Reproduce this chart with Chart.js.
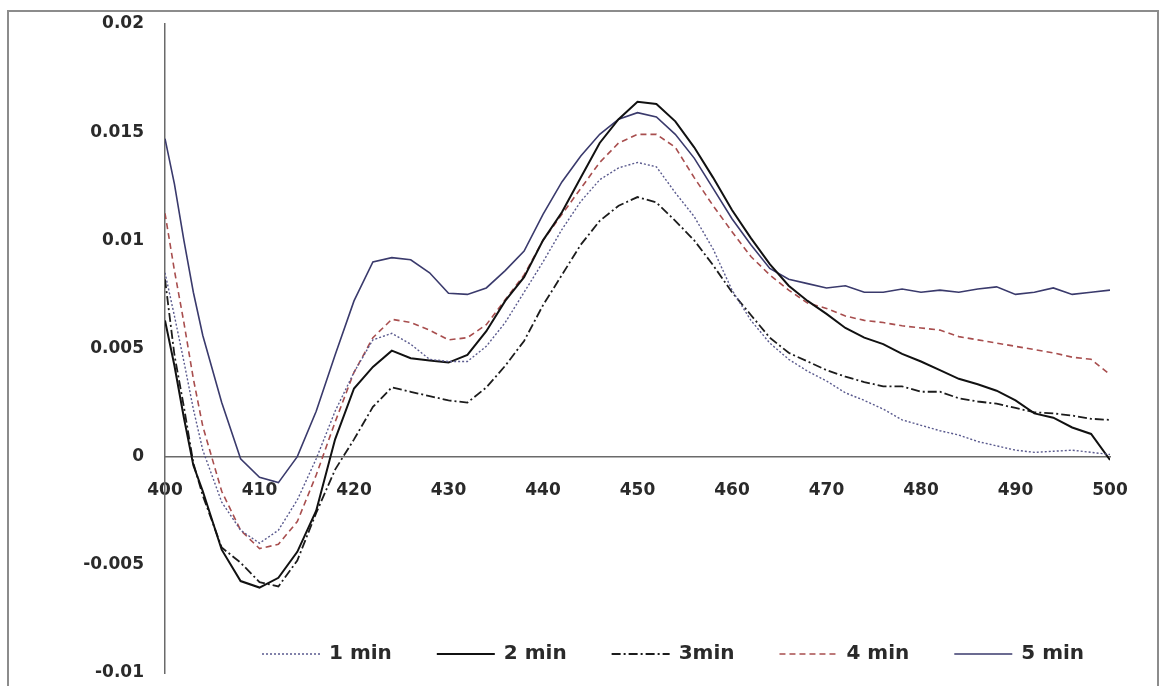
<!DOCTYPE html>
<html>
<head>
<meta charset="utf-8">
<script src="https://cdn.jsdelivr.net/npm/chart.js@4.4.1/dist/chart.umd.min.js"></script>
<style>
  html, body { margin: 0; padding: 0; background: #fff; }
  #wrap { position: relative; width: 1161px; height: 686px; overflow: hidden; }
  #frame { position: absolute; left: 7px; top: 10px; width: 1152px; height: 700px;
           border: 2px solid #8c8c8c; box-sizing: border-box; pointer-events: none; }
</style>
</head>
<body>
<div id="wrap">
  <canvas id="spectra" width="1161" height="686"></canvas>
  <div id="frame"></div>
</div>
<script>
// wavelength (nm)
const wavelengths = [400, 401, 402, 403, 404, 406, 408, 410, 412, 414, 416, 418, 420, 422, 424, 426, 428, 430,
  432, 434, 436, 438, 440, 442, 444, 446, 448, 450, 452, 454, 456, 458, 460, 462, 464, 466, 468, 470,
  472, 474, 476, 478, 480, 482, 484, 486, 488, 490, 492, 494, 496, 498, 500];

const seriesNames = ['1 min', '2 min', '3min', '4 min', '5 min'];

const min1 = [0.0085, 0.0065, 0.0044, 0.0022, 0.0003, -0.0021, -0.0034, -0.0040, -0.0034, -0.0020, -0.0001,
  0.0021, 0.0039, 0.0054, 0.0057, 0.0052, 0.0045, 0.0044, 0.0044, 0.0051, 0.0062, 0.0076, 0.0090, 0.0105,
  0.0118, 0.0128, 0.01335, 0.0136, 0.0134, 0.0122, 0.0111, 0.0096, 0.0077, 0.0063, 0.00525, 0.0045,
  0.00395, 0.0035, 0.00295, 0.0026, 0.0022, 0.0017, 0.00145, 0.0012, 0.0010, 0.0007, 0.0005, 0.0003,
  0.0002, 0.00025, 0.0003, 0.0002, 0.0001];

const min2 = [0.0063, 0.0042, 0.0018, -0.0004, -0.0016, -0.0043, -0.00575, -0.00605, -0.0056, -0.0044,
  -0.0025, 0.0008, 0.00315, 0.00415, 0.0049, 0.00455, 0.00445, 0.00435, 0.0047, 0.0058, 0.0072, 0.0083,
  0.0100, 0.0113, 0.0129, 0.0145, 0.0156, 0.0164, 0.0163, 0.0155, 0.0143, 0.0129, 0.0114, 0.0101, 0.0089,
  0.0079, 0.0072, 0.0066, 0.00595, 0.0055, 0.0052, 0.00475, 0.0044, 0.0040, 0.0036, 0.00335, 0.00305,
  0.0026, 0.0020, 0.0018, 0.00135, 0.00105, -0.00015];

const min3 = [0.0082, 0.0047, 0.0023, -0.0003, -0.0018, -0.0042, -0.0049, -0.0058, -0.0060, -0.0048,
  -0.0026, -0.0006, 0.0008, 0.0023, 0.0032, 0.0030, 0.0028, 0.0026, 0.0025, 0.0032, 0.0042, 0.00535,
  0.0070, 0.0084, 0.0098, 0.0109, 0.0116, 0.0120, 0.01175, 0.0109, 0.0100, 0.00885, 0.0076, 0.00655,
  0.0055, 0.0048, 0.0044, 0.0040, 0.0037, 0.00345, 0.00325, 0.00325, 0.0030, 0.0030, 0.0027, 0.00255,
  0.00245, 0.00225, 0.00205, 0.0020, 0.0019, 0.00175, 0.0017];

const min4 = [0.01125, 0.0086, 0.0062, 0.0036, 0.0014, -0.0016, -0.0034, -0.00425, -0.00405, -0.0030,
  -0.00085, 0.0016, 0.0039, 0.0055, 0.00635, 0.0062, 0.00585, 0.0054, 0.0055, 0.0061, 0.00725, 0.0084,
  0.0100, 0.0112, 0.0124, 0.0136, 0.0145, 0.0149, 0.0149, 0.0143, 0.0129, 0.0116, 0.0104, 0.00925, 0.0084,
  0.0077, 0.0071, 0.00685, 0.0065, 0.0063, 0.0062, 0.00605, 0.00595, 0.00585, 0.00555, 0.0054, 0.00525,
  0.0051, 0.00495, 0.0048, 0.0046, 0.0045, 0.0038];

const min5 = [0.0147, 0.0126, 0.0100, 0.0076, 0.0056, 0.0025, -0.0001, -0.00095, -0.0012, 0.0000, 0.0021,
  0.0047, 0.0072, 0.0090, 0.0092, 0.0091, 0.0085, 0.00755, 0.0075, 0.0078, 0.0086, 0.0095, 0.0112, 0.0127,
  0.0139, 0.0149, 0.0156, 0.0159, 0.0157, 0.0149, 0.0138, 0.0124, 0.0110, 0.0098, 0.0087, 0.0082, 0.0080,
  0.0078, 0.0079, 0.0076, 0.0076, 0.00775, 0.0076, 0.0077, 0.0076, 0.00775, 0.00785, 0.0075, 0.0076,
  0.0078, 0.0075, 0.0076, 0.0077];

const xTickLabels = ['400', '410', '420', '430', '440', '450', '460', '470', '480', '490', '500'];
const yTickLabels = ['-0.01', '-0.005', '0', '0.005', '0.01', '0.015', '0.02'];

const toPoints = (vals) => wavelengths.map((w, i) => ({ x: w, y: vals[i] }));

const tickFont = { family: '"DejaVu Sans", sans-serif', size: 17, weight: 'bold' };
const textColor = '#2a2a2a';

// legend sits inside the plot, along the bottom
const bottomLegend = {
  id: 'bottomLegend',
  afterDraw(chart) {
    const ctx = chart.ctx;
    const y = 654;
    let x = 262;
    ctx.save();
    ctx.font = 'bold 20px "DejaVu Sans", sans-serif';
    ctx.textBaseline = 'middle';
    chart.data.datasets.forEach(ds => {
      ctx.strokeStyle = ds.borderColor;
      ctx.lineWidth = ds.borderWidth;
      ctx.setLineDash(ds.borderDash || []);
      ctx.beginPath();
      ctx.moveTo(x, y);
      ctx.lineTo(x + 58, y);
      ctx.stroke();
      ctx.setLineDash([]);
      ctx.fillStyle = textColor;
      ctx.fillText(ds.label, x + 67, y);
      x += 58 + 9 + ctx.measureText(ds.label).width + 45;
    });
    ctx.restore();
  }
};

new Chart(document.getElementById('spectra'), {
  type: 'line',
  data: {
    datasets: [
      { label: seriesNames[0], data: toPoints(min1), borderColor: '#5a5a8e', borderWidth: 1.4, borderDash: [2, 2] },
      { label: seriesNames[1], data: toPoints(min2), borderColor: '#111111', borderWidth: 2 },
      { label: seriesNames[2], data: toPoints(min3), borderColor: '#1c1c1c', borderWidth: 1.8, borderDash: [9, 3, 2, 3] },
      { label: seriesNames[3], data: toPoints(min4), borderColor: '#a84e4e', borderWidth: 1.6, borderDash: [6, 4] },
      { label: seriesNames[4], data: toPoints(min5), borderColor: '#3a3a6c', borderWidth: 1.6 }
    ]
  },
  options: {
    responsive: false,
    animation: false,
    elements: { point: { radius: 0 }, line: { tension: 0, fill: false } },
    layout: { padding: { left: 0, right: 51, top: 24, bottom: 13 } },
    plugins: { legend: { display: false }, tooltip: { enabled: false } },
    scales: {
      x: {
        type: 'linear',
        position: { y: 0 },
        min: 400,
        max: 500,
        grid: { drawOnChartArea: false, drawTicks: false },
        border: { color: '#6a6a6a', width: 1.5 },
        ticks: {
          stepSize: 10,
          padding: 24,
          maxRotation: 0,
          font: tickFont,
          color: textColor,
          callback: (v, i) => xTickLabels[i]
        },
        afterFit(scale) { scale.height = 0; }
      },
      y: {
        min: -0.01,
        max: 0.02,
        // invisible tick marks give the gap between labels and axis
        grid: { drawOnChartArea: false, drawTicks: true, tickLength: 21, tickColor: 'rgba(0,0,0,0)' },
        border: { color: '#6a6a6a', width: 1.5 },
        ticks: {
          stepSize: 0.005,
          padding: 0,
          font: tickFont,
          color: textColor,
          callback: (v, i) => yTickLabels[i]
        },
        afterFit(scale) { scale.width = 165; }
      }
    }
  },
  plugins: [bottomLegend]
});
</script>
</body>
</html>
